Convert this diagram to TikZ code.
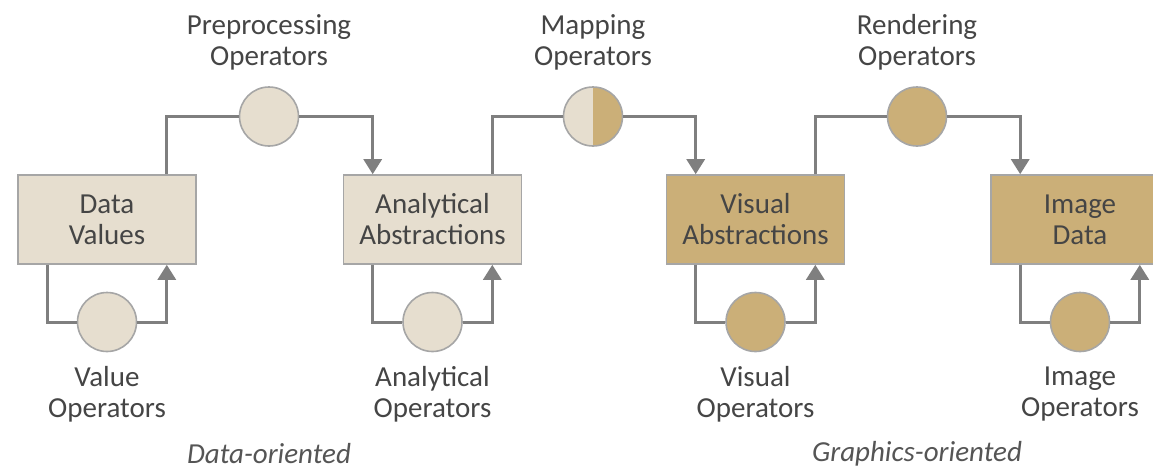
\documentclass[tikz,border=0pt]{standalone}
\usepackage{fontspec}
\setmainfont{Carlito}
\usetikzlibrary{arrows.meta,calc}
\definecolor{lightfill}{HTML}{E6DECF}
\definecolor{darkfill}{HTML}{CBAF78}
\definecolor{edgegray}{HTML}{A6A6A6}
\definecolor{linkgray}{HTML}{7F7F7F}
\definecolor{txt}{HTML}{454545}
\definecolor{notegray}{HTML}{555555}
\begin{document}
\begin{tikzpicture}[x=1pt,y=-1pt,
  every node/.style={font=\fontsize{29}{31}\selectfont, text=txt, align=center},
  stage/.style={draw=edgegray, line width=1.6pt, minimum width=178pt, minimum height=89pt, inner sep=0pt},
  opcircle/.style={circle, draw=edgegray, line width=1.6pt, minimum size=59pt, inner sep=0pt},
  link/.style={draw=linkgray, line width=3pt},
  flow/.style={link, -{Triangle[width=18pt,length=15pt]}},
  caption/.style={font=\fontsize{29}{31}\selectfont\itshape, text=notegray}]
\useasboundingbox (0,0) rectangle (1153,471);

% pipeline stages
\node[stage, fill=lightfill] (dv) at (107,219.5) {Data\\Values};
\node[stage, fill=lightfill] (aa) at (432.5,219.5) {Analytical\\Abstractions};
\node[stage, fill=darkfill] (va) at (755.5,219.5) {Visual\\Abstractions};
\node[stage, fill=darkfill] (id) at (1080,219.5) {Image\\Data};

% transformation operators between stages
\node[opcircle, fill=lightfill] (pre) at (269,116.5) {};
\node[opcircle, fill=lightfill, path picture={
  \fill[darkfill] (path picture bounding box.north) rectangle (path picture bounding box.south east);}] (map) at (593,116.5) {};
\node[opcircle, fill=darkfill] (ren) at (917,116.5) {};

% within-stage operators
\node[opcircle, fill=lightfill] (vop) at (107,322) {};
\node[opcircle, fill=lightfill] (aop) at (432.5,322) {};
\node[opcircle, fill=darkfill] (visop) at (755.5,322) {};
\node[opcircle, fill=darkfill] (imop) at (1080,322) {};

% operator labels
\node (preL) at (269,42) {Preprocessing\\Operators};
\node (mapL) at (593,42) {Mapping\\Operators};
\node (renL) at (917,42) {Rendering\\Operators};
\node (vopL) at (107,394) {Value\\Operators};
\node (aopL) at (432.5,394) {Analytical\\Operators};
\node (visopL) at (755.5,394) {Visual\\Operators};
\node (imopL) at (1080,394) {Image\\Operators};

\node[caption] (dataL) at (269,454) {Data-oriented};
\node[caption] (gfxL) at (917,454) {Graphics-oriented};

% attachment points on the stage boxes
\foreach \s in {dv,aa,va,id}{
  \coordinate (\s-tin) at ($(\s.north west)+(30,0)$);
  \coordinate (\s-tout) at ($(\s.north east)+(-30,0)$);
  \coordinate (\s-bout) at ($(\s.south west)+(30,0)$);
  \coordinate (\s-bin) at ($(\s.south east)+(-30,0)$);
}

% transformations between stages
\draw[link] (dv-tout) |- (pre.west);
\draw[flow] (pre.east) -| (aa-tin);
\draw[link] (aa-tout) |- (map.west);
\draw[flow] (map.east) -| (va-tin);
\draw[link] (va-tout) |- (ren.west);
\draw[flow] (ren.east) -| (id-tin);

% loops within each stage
\draw[link] (dv-bout) |- (vop.west);
\draw[flow] (vop.east) -| (dv-bin);
\draw[link] (aa-bout) |- (aop.west);
\draw[flow] (aop.east) -| (aa-bin);
\draw[link] (va-bout) |- (visop.west);
\draw[flow] (visop.east) -| (va-bin);
\draw[link] (id-bout) |- (imop.west);
\draw[flow] (imop.east) -| (id-bin);
\end{tikzpicture}
\end{document}
